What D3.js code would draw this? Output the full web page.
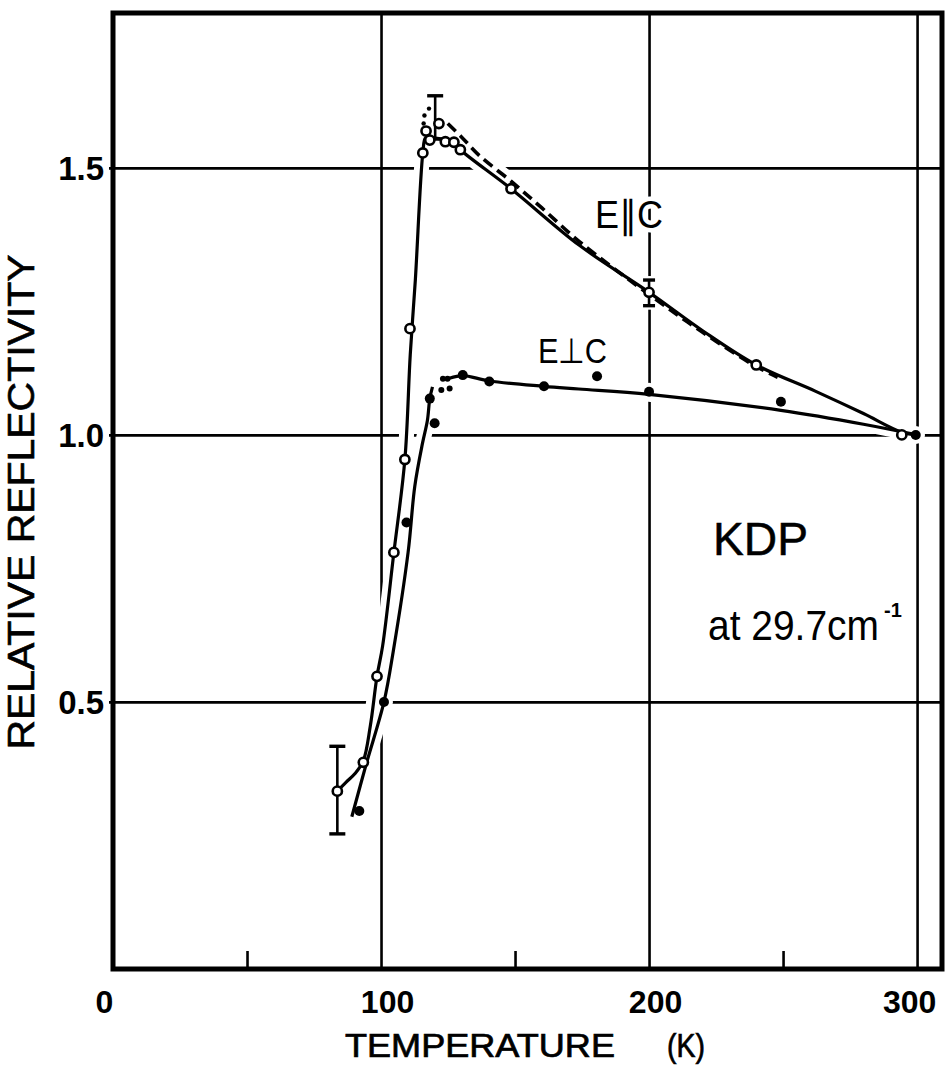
<!DOCTYPE html>
<html>
<head>
<meta charset="utf-8">
<script src="https://cdn.jsdelivr.net/npm/d3@7"></script>
<style>
  body { margin: 0; background: #fff; }
  text { font-family: "Liberation Sans", Arial, sans-serif; fill: #000; }
</style>
</head>
<body>
<svg id="chart" width="948" height="1065"></svg>
<script>
// E || C  (open circles), [T (K), relative reflectivity]
const parPoints = [[83.7,0.333],[93.4,0.387],[98.5,0.548],[104.8,0.780],[108.9,0.954],[110.8,1.199],
  [115.6,1.528],[116.8,1.569],[118.2,1.552],[121.6,1.583],[124.0,1.549],[127.2,1.548],[129.6,1.534],
  [148.5,1.461],[200,1.267],[240,1.131],[294.3,1.0]];
const parCurve = [[83.7,0.333],[87.0,0.350],[90.3,0.366],[93.4,0.390],[96.0,0.455],[98.5,0.548],
  [100.6,0.605],[104.8,0.780],[108.9,0.954],[110.9,1.15],[112.8,1.29],[115.6,1.528],[116.6,1.556],
  [118.5,1.557],[124.0,1.552],[127.2,1.548],[129.6,1.534],[148.5,1.461],[174,1.355],[200,1.267],
  [220,1.195],[240,1.131],[262,1.082],[280,1.040],[294.3,1.005],[300,1.0]];
const parDashed = [[124.9,1.583],[130,1.558],[136.7,1.523],[148.5,1.475],[160,1.425],[174,1.362],
  [200,1.263],[220,1.192],[240,1.128],[248,1.108]];
const parDotted = [[115.9,1.583],[116.2,1.598],[117.9,1.611]];
// error bars: [T, low, high]
const errorBars = [[83.7,0.253,0.417],[120.2,1.554,1.635],[200,1.242,1.290]];

// E ⊥ C  (filled dots)
const perpPoints = [[91.9,0.296],[101.1,0.500],[109.5,0.836],[118.2,1.068],[120.0,1.022],[130.5,1.112],
  [140.4,1.100],[160.8,1.091],[180.6,1.110],[200,1.081],[249.2,1.062],[299.5,1.0]];
const perpSmall = [[122.5,1.084],[125.6,1.087],[123.1,1.105],[124.8,1.105]];
const perpCurveLow = [[89.1,0.285],[94.5,0.384],[101.1,0.500],[104.6,0.596],[110.1,0.780],[112.6,0.904],
  [115.5,0.985],[117.3,1.027],[118.2,1.068],[119.2,1.090]];
const perpCurveHigh = [[125.5,1.106],[130.5,1.111],[140.4,1.101],[160.8,1.091],[173.8,1.086],[200,1.076],
  [249.2,1.046],[280,1.02],[300,1.0]];

const xLabels = [0, 100, 200, 300];
const xMinor = [50, 150, 250];
const xGrid = [100, 200, 300];
const yGrid = [0.5, 1.0, 1.5];

const svg = d3.select('#chart');
const x = d3.scaleLinear().domain([0, 309.3]).range([113, 942]);
const y = d3.scaleLinear().domain([0, 1.79]).range([969, 13]);
const H = y(0) - y(1.79), W = x(309.3) - x(0);

// grid
svg.append('g').attr('transform', `translate(0,${y(0)})`)
  .call(d3.axisBottom(x).tickValues(xGrid).tickSize(-H).tickSizeOuter(0).tickFormat(''))
  .call(g => g.select('.domain').remove())
  .selectAll('line').attr('stroke', '#000').attr('stroke-width', 2.6);
svg.append('g').attr('transform', `translate(${x(0) - 4},0)`)
  .call(d3.axisLeft(y).tickValues(yGrid).tickSize(-W - 4).tickSizeOuter(0).tickFormat(''))
  .call(g => g.select('.domain').remove())
  .selectAll('line').attr('stroke', '#000').attr('stroke-width', 2.8);
// minor ticks
svg.append('g').attr('transform', `translate(0,${y(0)})`)
  .call(d3.axisBottom(x).tickValues(xMinor).tickSize(-18).tickSizeOuter(0).tickFormat(''))
  .call(g => g.select('.domain').remove())
  .selectAll('line').attr('stroke', '#000').attr('stroke-width', 2.6);

const line = d3.line().x(d => x(d[0])).y(d => y(d[1])).curve(d3.curveCatmullRom.alpha(0.5));
const curves = [parCurve, parDashed, perpCurveLow, perpCurveHigh];

// white halos: gridlines break where marks cross them
const halo = svg.append('g');
halo.selectAll('path').data(curves).join('path')
  .attr('d', line).attr('fill', 'none').attr('stroke', '#fff')
  .attr('stroke-width', 15).attr('stroke-linecap', 'round');
halo.selectAll('circle').data(parPoints.concat(perpPoints)).join('circle')
  .attr('cx', d => x(d[0])).attr('cy', d => y(d[1])).attr('r', 9).attr('fill', '#fff');
halo.selectAll('line').data(errorBars).join('line')
  .attr('x1', d => x(d[0])).attr('x2', d => x(d[0]))
  .attr('y1', d => y(d[1]) + 4).attr('y2', d => y(d[2]) - 4)
  .attr('stroke', '#fff').attr('stroke-width', 12);

// curves
svg.append('path').datum(parCurve).attr('d', line)
  .attr('fill', 'none').attr('stroke', '#000').attr('stroke-width', 3.2);
svg.append('path').datum(parDashed).attr('d', line)
  .attr('fill', 'none').attr('stroke', '#000').attr('stroke-width', 3.6)
  .attr('stroke-dasharray', '11,6');
svg.append('path').datum(perpCurveLow).attr('d', line)
  .attr('fill', 'none').attr('stroke', '#000').attr('stroke-width', 3.2);
svg.append('path').datum(perpCurveHigh).attr('d', line)
  .attr('fill', 'none').attr('stroke', '#000').attr('stroke-width', 3.2);

// error bars
const eb = svg.append('g').attr('stroke', '#000').attr('stroke-width', 2.6);
errorBars.forEach(d => {
  const cx = x(d[0]), w = d[2] - d[1] > 0.06 ? 8 : 6;
  eb.append('line').attr('x1', cx).attr('x2', cx).attr('y1', y(d[1])).attr('y2', y(d[2]));
  eb.append('line').attr('x1', cx - w).attr('x2', cx + w).attr('y1', y(d[2])).attr('y2', y(d[2])).attr('stroke-width', 3.4);
  eb.append('line').attr('x1', cx - w).attr('x2', cx + w).attr('y1', y(d[1])).attr('y2', y(d[1])).attr('stroke-width', 3.4);
});

// markers
svg.append('g').selectAll('circle').data(parDotted).join('circle')
  .attr('cx', d => x(d[0])).attr('cy', d => y(d[1])).attr('r', 2.2).attr('fill', '#000');
svg.append('g').selectAll('circle').data(perpSmall).join('circle')
  .attr('cx', d => x(d[0])).attr('cy', d => y(d[1])).attr('r', 3).attr('fill', '#000');
svg.append('g').selectAll('circle').data(perpPoints).join('circle')
  .attr('cx', d => x(d[0])).attr('cy', d => y(d[1])).attr('r', 5).attr('fill', '#000');
svg.append('g').selectAll('circle').data(parPoints).join('circle')
  .attr('cx', d => x(d[0])).attr('cy', d => y(d[1])).attr('r', 4.6)
  .attr('fill', '#fff').attr('stroke', '#000').attr('stroke-width', 2.6);

// frame
svg.append('rect').attr('x', x(0)).attr('y', y(1.79)).attr('width', W).attr('height', H)
  .attr('fill', 'none').attr('stroke', '#000').attr('stroke-width', 5);

// tick labels
svg.append('g').attr('transform', `translate(0,${y(0)})`)
  .call(d3.axisBottom(x).tickValues(xLabels).tickSize(0).tickPadding(21).tickFormat(d3.format('d')))
  .call(g => g.select('.domain').remove())
  .selectAll('text').attr('font-size', 32).attr('font-weight', 'bold')
  .attr('font-family', '"Liberation Sans", Arial, sans-serif').attr('fill', '#000')
  .attr('dx', d => d === 0 ? -9 : d === 300 ? -8 : 6);
svg.append('g').attr('transform', `translate(${x(0)},0)`)
  .call(d3.axisLeft(y).tickValues(yGrid).tickSize(0).tickPadding(9).tickFormat(d3.format('.1f')))
  .call(g => g.select('.domain').remove())
  .selectAll('text').attr('font-size', 33).attr('font-weight', 'bold')
  .attr('font-family', '"Liberation Sans", Arial, sans-serif').attr('fill', '#000')
  .attr('dy', '0.36em');

// axis titles
svg.append('text').attr('transform', 'translate(34,502) rotate(-90)')
  .attr('text-anchor', 'middle').attr('font-size', 37)
  .attr('textLength', 495).attr('lengthAdjust', 'spacingAndGlyphs')
  .attr('stroke', '#000').attr('stroke-width', 0.6)
  .text('RELATIVE  REFLECTIVITY');
svg.append('text').attr('x', 345).attr('y', 1057).attr('font-size', 33)
  .attr('textLength', 270).attr('lengthAdjust', 'spacingAndGlyphs')
  .attr('stroke', '#000').attr('stroke-width', 0.7)
  .text('TEMPERATURE');
svg.append('text').attr('x', 667).attr('y', 1057).attr('font-size', 33)
  .attr('textLength', 38).attr('lengthAdjust', 'spacingAndGlyphs')
  .attr('stroke', '#000').attr('stroke-width', 0.7)
  .text('(K)');

// annotations (white halo breaks the gridlines under them)
function label(tx, ty, str, size, len) {
  return svg.append('text').attr('x', tx).attr('y', ty).attr('font-size', size)
    .attr('textLength', len).attr('lengthAdjust', 'spacingAndGlyphs')
    .attr('font-family', '"DejaVu Sans", "Liberation Sans", sans-serif')
    .attr('stroke', '#fff').attr('stroke-width', 9).attr('paint-order', 'stroke')
    .text(str);
}
label(595, 228, 'E∥C', 38, 68);
label(538, 363, 'E⊥C', 35, 69);
svg.append('text').attr('x', 713).attr('y', 555).attr('font-size', 46)
  .attr('textLength', 95).attr('lengthAdjust', 'spacingAndGlyphs')
  .attr('stroke', '#000').attr('stroke-width', 0.5)
  .text('KDP');
svg.append('text').attr('x', 708).attr('y', 640).attr('font-size', 42)
  .attr('textLength', 171).attr('lengthAdjust', 'spacingAndGlyphs')
  .text('at 29.7cm');
svg.append('text').attr('x', 884).attr('y', 617).attr('font-size', 20).attr('font-weight', 'bold')
  .text('-1');
</script>
</body>
</html>
